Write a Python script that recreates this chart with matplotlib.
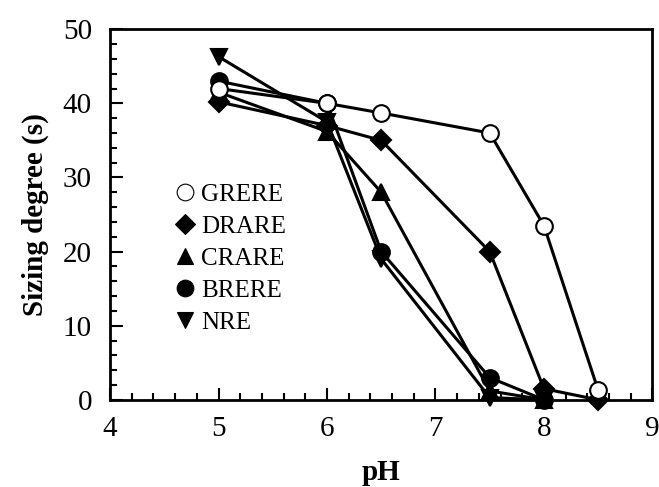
import matplotlib
matplotlib.use("Agg")
import matplotlib.pyplot as plt
from matplotlib.lines import Line2D
from matplotlib.ticker import MultipleLocator

# ----------------------------
# DATA
# ----------------------------
ph_grere = [5, 6, 6.5, 7.5, 8, 8.5]
grere = [42, 40, 38.7, 36, 23.5, 1.3]

ph_drare = [5, 6, 6.5, 7.5, 8, 8.5]
drare = [40.2, 37, 35, 20, 1.5, 0]

ph_crare = [5, 6, 6.5, 7.5, 8]
crare = [41.5, 36.2, 28, 1.2, 0]

ph_brere = [5, 6, 6.5, 7.5, 8]
brere = [43, 40, 20, 3, 0]

ph_nre = [5, 6, 6.5, 7.5, 8]
nre = [46.3, 37.5, 19, 0.3, 0]

SERIES = [
    ("GRERE", ph_grere, grere, "o", "white"),
    ("DRARE", ph_drare, drare, "D", "black"),
    ("CRARE", ph_crare, crare, "^", "black"),
    ("BRERE", ph_brere, brere, "o", "black"),
    ("NRE", ph_nre, nre, "v", "black"),
]

plt.rcParams["font.family"] = ["Liberation Serif", "DejaVu Serif"]

fig = plt.figure(figsize=(6.59, 4.87), dpi=100)
ax = fig.add_axes([0.167, 0.179, 0.823, 0.761])

# ----------------------------
# PLOT
# ----------------------------
for name, x, y, mk, fc in reversed(SERIES):
    ms = 10 if mk == "D" else 12
    ax.plot(x, y, color="black", linewidth=2.2, marker=mk, markersize=ms,
            markerfacecolor=fc, markeredgecolor="black", markeredgewidth=1.5,
            clip_on=False, zorder=3)

handles = []
for name, x, y, mk, fc in SERIES:
    ms = 10 if mk == "D" else 12
    handles.append(Line2D([], [], linestyle="none", marker=mk, markersize=ms,
                          markerfacecolor=fc, markeredgecolor="black",
                          markeredgewidth=0.8, label=name))

ax.legend(handles=handles, loc="upper left", bbox_to_anchor=(0.115, 0.585),
          frameon=False, fontsize=18, handletextpad=0.15, labelspacing=0.38,
          handlelength=1.0, borderaxespad=0, borderpad=0)

ax.set_xlim(4, 9)
ax.set_ylim(0, 50)
ax.xaxis.set_major_locator(MultipleLocator(1))
ax.xaxis.set_minor_locator(MultipleLocator(0.2))
ax.yaxis.set_major_locator(MultipleLocator(10))
ax.yaxis.set_minor_locator(MultipleLocator(2))
ax.tick_params(which="both", direction="in", top=False, right=False,
               labelsize=21, width=1.5)
ax.tick_params(axis="x", which="major", length=9, pad=12)
ax.tick_params(axis="y", which="major", length=9, pad=13)
ax.tick_params(which="minor", length=5)
for sp in ax.spines.values():
    sp.set_linewidth(2)

ax.set_xlabel("pH", fontsize=21, fontweight="bold", labelpad=12)
ax.set_ylabel("Sizing degree (s)", fontsize=21, fontweight="bold", labelpad=10)

fig.savefig("out.png", dpi=100)
